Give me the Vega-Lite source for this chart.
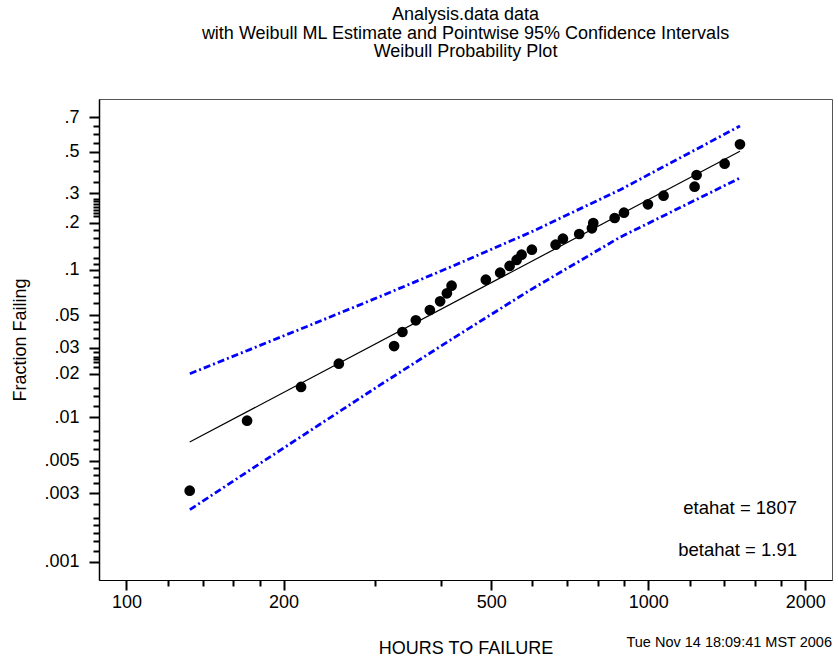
{
  "$schema": "https://vega.github.io/schema/vega-lite/v6.json",
  "autosize": "none",
  "padding": {"top": 99, "left": 99, "right": 6, "bottom": 82},
  "width": 733,
  "height": 481,
  "background": "white",
  "config": {
    "font": "Liberation Sans",
    "view": {"stroke": "#555", "strokeWidth": 1},
    "axis": {"grid": false, "labelFont": "Liberation Sans", "titleFont": "Liberation Sans", "labelColor": "black", "titleColor": "black", "tickColor": "black", "domainColor": "black", "titleFontWeight": "normal", "tickWidth": 2}
  },
  "title": {
    "text": ["Analysis.data data", "with Weibull ML Estimate  and Pointwise 95% Confidence Intervals", "Weibull Probability Plot"],
    "fontSize": 18,
    "fontWeight": "normal",
    "lineHeight": 18.5,
    "anchor": "middle",
    "color": "black",
    "offset": 38
  },
  "data": {
    "values": [
      {"series": "obs", "t": 132.2, "p": 0.003114},
      {"series": "obs", "t": 170.3, "p": 0.009476},
      {"series": "obs", "t": 216.1, "p": 0.01617},
      {"series": "obs", "t": 255.3, "p": 0.02335},
      {"series": "obs", "t": 325.8, "p": 0.03084},
      {"series": "obs", "t": 338.0, "p": 0.03841},
      {"series": "obs", "t": 358.6, "p": 0.04611},
      {"series": "obs", "t": 381.5, "p": 0.05412},
      {"series": "obs", "t": 399.2, "p": 0.06191},
      {"series": "obs", "t": 411.3, "p": 0.07004},
      {"series": "obs", "t": 419.9, "p": 0.07869},
      {"series": "obs", "t": 488.4, "p": 0.08624},
      {"series": "obs", "t": 520.3, "p": 0.09597},
      {"series": "obs", "t": 542.4, "p": 0.1062},
      {"series": "obs", "t": 559.5, "p": 0.1162},
      {"series": "obs", "t": 571.9, "p": 0.1258},
      {"series": "obs", "t": 598.4, "p": 0.1354},
      {"series": "obs", "t": 664.5, "p": 0.1458},
      {"series": "obs", "t": 686.3, "p": 0.1592},
      {"series": "obs", "t": 737.4, "p": 0.1705},
      {"series": "obs", "t": 780.0, "p": 0.1852},
      {"series": "obs", "t": 784.6, "p": 0.1997},
      {"series": "obs", "t": 862.3, "p": 0.2144},
      {"series": "obs", "t": 898.4, "p": 0.2310},
      {"series": "obs", "t": 998.7, "p": 0.2594},
      {"series": "obs", "t": 1070, "p": 0.2913},
      {"series": "obs", "t": 1227, "p": 0.3279},
      {"series": "obs", "t": 1238, "p": 0.3806},
      {"series": "obs", "t": 1401, "p": 0.4364},
      {"series": "obs", "t": 1499, "p": 0.5422},
      {"series": "fit", "t": 132.2, "p": 0.00675},
      {"series": "fit", "t": 1499, "p": 0.5033},
      {"series": "upper", "t": 132.3, "p": 0.01995},
      {"series": "upper", "t": 172.3, "p": 0.02916},
      {"series": "upper", "t": 224.6, "p": 0.04265},
      {"series": "upper", "t": 305.9, "p": 0.06656},
      {"series": "upper", "t": 416.8, "p": 0.1041},
      {"series": "upper", "t": 593.3, "p": 0.1740},
      {"series": "upper", "t": 882.4, "p": 0.3145},
      {"series": "upper", "t": 1499, "p": 0.6487},
      {"series": "lower", "t": 132.3, "p": 0.002301},
      {"series": "lower", "t": 172.3, "p": 0.004314},
      {"series": "lower", "t": 224.6, "p": 0.008058},
      {"series": "lower", "t": 305.9, "p": 0.01664},
      {"series": "lower", "t": 416.8, "p": 0.03373},
      {"series": "lower", "t": 593.3, "p": 0.07344},
      {"series": "lower", "t": 882.4, "p": 0.1625},
      {"series": "lower", "t": 1499, "p": 0.3665},
      {"series": "note", "t": 1928, "p": 0.002363, "label": "etahat = 1807"},
      {"series": "note", "t": 1928, "p": 0.00121, "label": "betahat = 1.91"},
      {"series": "stamp", "t": 2250, "p": 0.000258, "label": "Tue Nov 14 18:09:41 MST 2006"}
    ]
  },
  "transform": [{"calculate": "-log(1 - datum.p)", "as": "q"}],
  "layer": [
    {
      "transform": [{"filter": "datum.series === 'obs'"}],
      "mark": {"type": "circle", "size": 115, "color": "black", "opacity": 1},
      "encoding": {
        "x": {"field": "t", "type": "quantitative", "scale": {"type": "log", "domain": [88.6, 2250], "nice": false},
          "axis": {"orient": "bottom",
            "values": [100, 120, 140, 160, 180, 200, 300, 400, 500, 600, 700, 800, 900, 1000, 1200, 1400, 1600, 1800, 2000],
            "tickCount": 100,
            "labelExpr": "indexof([100, 200, 500, 1000, 2000], datum.value) >= 0 ? format(datum.value, 'd') : ''",
            "tickSize": {"condition": {"test": "indexof([100, 200, 500, 1000, 2000], datum.value) >= 0", "value": 10}, "value": 6},
            "labelPadding": 3, "labelFontSize": 18, "labelOverlap": false, "title": "HOURS TO FAILURE", "titleFontSize": 18, "titlePadding": 28, "domainWidth": 1}},
        "y": {"field": "q", "type": "quantitative", "scale": {"type": "log", "domain": [0.0007507, 1.6093], "nice": false},
          "axis": {"orient": "left",
            "values": [0.0010005, 0.001201, 0.001401, 0.001601, 0.001802, 0.002002, 0.002503, 0.0030045, 0.003506, 0.004008, 0.00451, 0.0050125, 0.006018, 0.007025, 0.008032, 0.0100503, 0.012073, 0.014099, 0.016129, 0.0202027, 0.022245, 0.024293, 0.025318, 0.026344, 0.028399, 0.0304592, 0.035627, 0.040822, 0.046044, 0.0512933, 0.061875, 0.072571, 0.083382, 0.094311, 0.1053605, 0.116534, 0.127833, 0.150823, 0.174353, 0.198451, 0.2231436, 0.248461, 0.261365, 0.274437, 0.287682, 0.301105, 0.314711, 0.328504, 0.3566749, 0.430783, 0.510826, 0.597837, 0.6931472, 0.798508, 0.916291, 1.049822, 1.2039728],
            "tickCount": 100,
            "labelExpr": "indexof([0.0010005, 0.0030045, 0.0050125, 0.0100503, 0.0202027, 0.0304592, 0.0512933, 0.1053605, 0.2231436, 0.3566749, 0.6931472, 1.2039728], datum.value) >= 0 ? slice(format(1 - exp(-datum.value), '.1r'), 1) : ''",
            "tickSize": {"condition": {"test": "indexof([0.0010005, 0.0030045, 0.0050125, 0.0100503, 0.0202027, 0.0304592, 0.0512933, 0.1053605, 0.2231436, 0.3566749, 0.6931472, 1.2039728], datum.value) >= 0", "value": 10}, "value": 6},
            "labelPadding": 10, "labelFontSize": 18, "labelOverlap": false, "labelBound": false, "title": "Fraction Failing", "titleFontSize": 18, "titlePadding": 14, "domainWidth": 1.5}}
      }
    },
    {
      "transform": [{"filter": "datum.series === 'fit'"}],
      "mark": {"type": "line", "color": "black", "strokeWidth": 1.2},
      "encoding": {
        "x": {"field": "t", "type": "quantitative"},
        "y": {"field": "q", "type": "quantitative"}
      }
    },
    {
      "transform": [{"filter": "datum.series === 'upper' || datum.series === 'lower'"}],
      "mark": {"type": "line", "color": "#0000ff", "strokeWidth": 2.8, "strokeDash": [7, 3, 2, 3]},
      "encoding": {
        "x": {"field": "t", "type": "quantitative"},
        "y": {"field": "q", "type": "quantitative"},
        "detail": {"field": "series"}
      }
    },
    {
      "transform": [{"filter": "datum.series === 'note'"}],
      "mark": {"type": "text", "align": "right", "baseline": "middle", "fontSize": 18.5, "color": "black"},
      "encoding": {
        "x": {"field": "t", "type": "quantitative"},
        "y": {"field": "q", "type": "quantitative"},
        "text": {"field": "label"}
      }
    },
    {
      "transform": [{"filter": "datum.series === 'stamp'"}],
      "mark": {"type": "text", "align": "right", "baseline": "alphabetic", "fontSize": 14.5, "color": "black", "clip": false},
      "encoding": {
        "x": {"field": "t", "type": "quantitative"},
        "y": {"field": "q", "type": "quantitative"},
        "text": {"field": "label"}
      }
    }
  ]
}
